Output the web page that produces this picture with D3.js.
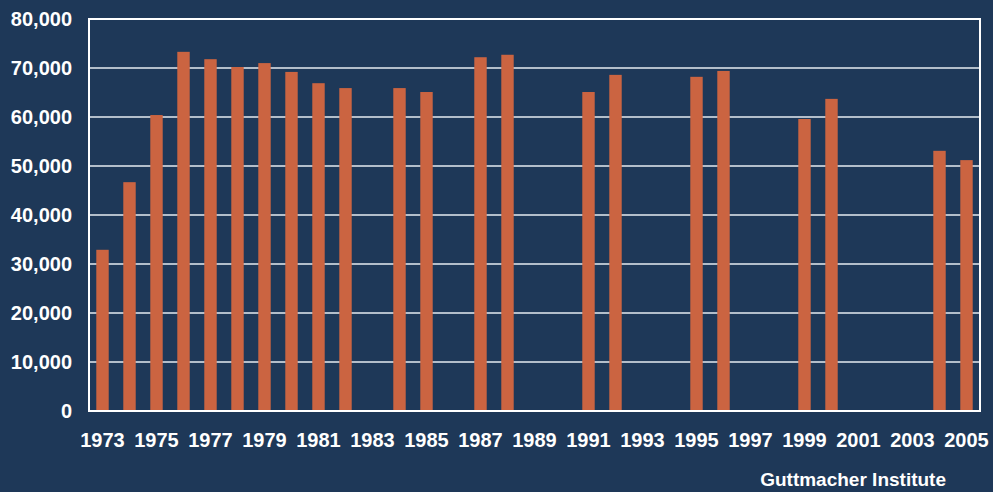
<!DOCTYPE html>
<html>
<head>
<meta charset="utf-8">
<script src="https://cdn.jsdelivr.net/npm/d3@7"></script>
<style>
  html, body { margin: 0; padding: 0; background: #1e3858; }
  svg { display: block; }
  text { font-family: "Liberation Sans", Arial, sans-serif; font-weight: bold; fill: #ffffff; }
</style>
</head>
<body>
<svg id="chart" width="993" height="492"></svg>
<script>
// Years on the category axis (every year 1973–2005; gaps are years without data)
const years = d3.range(1973, 2006).map(String);
// Years that have a reported value
const dataYears = ["1973","1974","1975","1976","1977","1978","1979","1980","1981","1982",
                   "1984","1985","1987","1988","1991","1992","1995","1996","1999","2000","2004","2005"];
const counts = [32900, 46700, 60400, 73300, 71800, 70200, 71000, 69200, 66900, 65900,
                65900, 65100, 72200, 72700, 65100, 68600, 68200, 69400, 59600, 63700, 53100, 51200];
const yTicks = [0, 10000, 20000, 30000, 40000, 50000, 60000, 70000, 80000];
const xTickLabels = years.filter((y, i) => i % 2 === 0);
const sourceText = "Guttmacher Institute";

const data = dataYears.map((y, i) => ({ year: y, value: counts[i] }));

const margin = { left: 89, top: 19, right: 13, bottom: 81 };
const W = 993, H = 492;
const svg = d3.select("#chart");

const x = d3.scaleBand().domain(years)
  .range([margin.left, W - margin.right]).paddingInner(0.54).paddingOuter(0.27);
const y = d3.scaleLinear().domain([0, 80000]).range([H - margin.bottom, margin.top]);

// horizontal gridlines
svg.append("g").selectAll("line").data(yTicks.slice(1, -1)).join("line")
  .attr("x1", margin.left).attr("x2", W - margin.right)
  .attr("y1", d => y(d)).attr("y2", d => y(d))
  .attr("stroke", "#e6ebf1").attr("stroke-width", 1.6);

// bars
svg.append("g").selectAll("rect").data(data).join("rect")
  .attr("x", d => x(d.year))
  .attr("width", x.bandwidth())
  .attr("y", d => y(d.value))
  .attr("height", d => y(0) - y(d.value))
  .attr("fill", "#cb6441");

// plot frame
svg.append("rect")
  .attr("x", margin.left).attr("y", margin.top)
  .attr("width", W - margin.right - margin.left)
  .attr("height", y(0) - margin.top)
  .attr("fill", "none").attr("stroke", "#ffffff").attr("stroke-width", 2);

// y axis labels
const yAxis = d3.axisLeft(y).tickValues(yTicks).tickSize(0).tickPadding(17)
  .tickFormat(d3.format(","));
svg.append("g").attr("transform", `translate(${margin.left},0)`).call(yAxis)
  .call(g => g.select(".domain").remove())
  .call(g => g.selectAll("text").attr("font-size", 20)
    .attr("font-family", "Liberation Sans, Arial, sans-serif").attr("font-weight", "bold")
    .attr("fill", "#ffffff"));

// x axis labels (every other year)
const xAxis = d3.axisBottom(x).tickValues(xTickLabels).tickSize(0).tickPadding(22);
svg.append("g").attr("transform", `translate(0,${y(0)})`).call(xAxis)
  .call(g => g.select(".domain").remove())
  .call(g => g.selectAll("text").attr("font-size", 20)
    .attr("font-family", "Liberation Sans, Arial, sans-serif").attr("font-weight", "bold")
    .attr("fill", "#ffffff"));

// source note
svg.append("text").attr("x", 946).attr("y", 486).attr("text-anchor", "end")
  .attr("font-size", 19).text(sourceText);
</script>
</body>
</html>
